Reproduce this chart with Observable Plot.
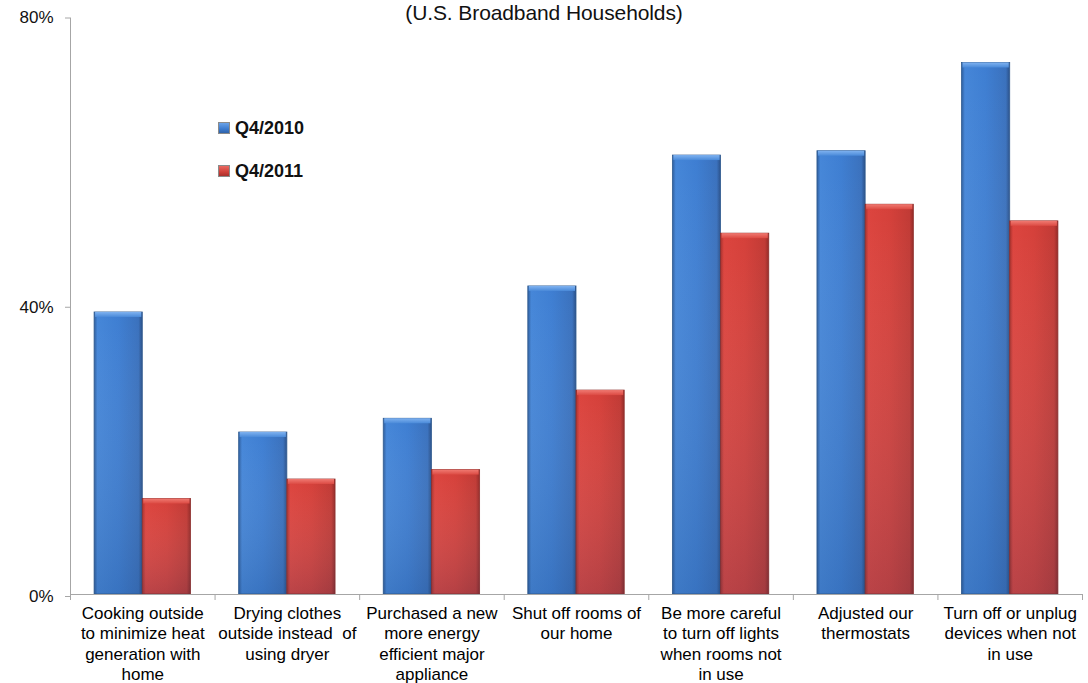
<!DOCTYPE html>
<html>
<head>
<meta charset="utf-8">
<script src="https://cdn.jsdelivr.net/npm/d3@7"></script>
<script src="https://cdn.jsdelivr.net/npm/@observablehq/plot@0.6"></script>
<style>
  body { margin: 0; background: #fff; font-family: "Liberation Sans", Arial, sans-serif; }
  #wrap { position: relative; width: 1088px; height: 683px; overflow: hidden; }
  #title { position: absolute; left: 0; top: 2px; width: 1088px; text-align: center;
           font-size: 21px; line-height: 22px; color: #111; letter-spacing: -0.1px; }
  .leg { position: absolute; left: 218px; display: flex; align-items: center; gap: 5px;
         font-weight: bold; font-size: 18px; color: #111; line-height: 20px; }
  .sw { width: 12px; height: 12px; box-sizing: border-box; }
  #chart { position: absolute; left: 0; top: 0; }
</style>
</head>
<body>
<div id="wrap">
  <div id="chart"></div>
  <div id="title">(U.S. Broadband Households)</div>
  <div id="legend"></div>
</div>
<script>
// ---- data ----
const categories = [
  "Cooking outside to minimize heat generation with home",
  "Drying clothes outside instead of using dryer",
  "Purchased a new more energy efficient major appliance",
  "Shut off rooms of our home",
  "Be more careful to turn off lights when rooms not in use",
  "Adjusted our thermostats",
  "Turn off or unplug devices when not in use"
];
const tickLabels = [
  "Cooking outside\nto minimize heat\ngeneration with\nhome",
  "Drying clothes\noutside instead  of\nusing dryer",
  "Purchased a new\nmore energy\nefficient major\nappliance",
  "Shut off rooms of\nour home",
  "Be more careful\nto turn off lights\nwhen rooms not\nin use",
  "Adjusted our\nthermostats",
  "Turn off or unplug\ndevices when not\nin use"
];
const seriesNames = ["Q4/2010", "Q4/2011"];
const values2010 = [39.0, 22.4, 24.3, 42.6, 60.7, 61.3, 73.5];
const values2011 = [13.2, 15.9, 17.2, 28.2, 49.9, 53.9, 51.6];
const yTicks = [0, 40, 80];

// ---- layout ----
const W = 1088, H = 683;
const ml = 70, mr = 6, mt = 15.5, mb = 89;
const step = (W - ml - mr) / categories.length;
const outer = step / 6, bw = step / 3;
const axisGray = "#a6a6a6";

const rows2010 = categories.map((c, i) => ({cat: c, v: values2010[i]}));
const rows2011 = categories.map((c, i) => ({cat: c, v: values2011[i]}));

const defsMark = () => {
  const ns = "http://www.w3.org/2000/svg";
  const defs = document.createElementNS(ns, "defs");
  defs.innerHTML = `
    <linearGradient id="gBlue" x1="0" x2="1" y1="0" y2="0">
      <stop offset="0" stop-color="#2d5d9c"/>
      <stop offset="0.07" stop-color="#4586d8"/>
      <stop offset="0.5" stop-color="#3e7ed2"/>
      <stop offset="0.92" stop-color="#3a71bd"/>
      <stop offset="1" stop-color="#2a5088"/>
    </linearGradient>
    <linearGradient id="gRed" x1="0" x2="1" y1="0" y2="0">
      <stop offset="0" stop-color="#a8302c"/>
      <stop offset="0.07" stop-color="#dc443e"/>
      <stop offset="0.5" stop-color="#d5403a"/>
      <stop offset="0.92" stop-color="#c13a35"/>
      <stop offset="1" stop-color="#942a27"/>
    </linearGradient>
    <linearGradient id="gShadeV" x1="0" x2="0" y1="0" y2="1">
      <stop offset="0" stop-color="#ffffff" stop-opacity="0"/>
      <stop offset="1" stop-color="#1d3f70" stop-opacity="0.18"/>
    </linearGradient>
    <linearGradient id="gBlueTop" x1="0" x2="0" y1="0" y2="1">
      <stop offset="0" stop-color="#7fb2f0"/>
      <stop offset="1" stop-color="#4a8ad9"/>
    </linearGradient>
    <linearGradient id="gRedTop" x1="0" x2="0" y1="0" y2="1">
      <stop offset="0" stop-color="#f07a72"/>
      <stop offset="1" stop-color="#dc4a43"/>
    </linearGradient>`;
  return defs;
};

const chart = Plot.plot({
  width: W,
  height: H,
  marginLeft: ml,
  marginRight: mr,
  marginTop: mt,
  marginBottom: mb,
  style: {fontFamily: "'Liberation Sans', Arial, sans-serif", fontSize: "17px", color: "#111", background: "#fff", overflow: "visible"},
  x: {domain: categories, padding: 0, round: false, label: null},
  y: {domain: [0, 80], label: null},
  marks: [
    defsMark,
    // bars
    Plot.barY(rows2010, {x: "cat", y: "v", fill: "url(#gBlue)", stroke: "#2f5a8f", strokeWidth: 0.8,
      insetLeft: outer, insetRight: outer + bw}),
    Plot.barY(rows2010, {x: "cat", y: "v", fill: "url(#gShadeV)",
      insetLeft: outer, insetRight: outer + bw}),
    Plot.barY(rows2010, {x: "cat", y1: "v", y2: "v", insetBottom: -5, fill: "url(#gBlueTop)",
      insetLeft: outer + 1, insetRight: outer + bw + 1}),
    Plot.barY(rows2011, {x: "cat", y: "v", fill: "url(#gRed)", stroke: "#8c2b28", strokeWidth: 0.8,
      insetLeft: outer + bw, insetRight: outer}),
    Plot.barY(rows2011, {x: "cat", y: "v", fill: "url(#gShadeV)",
      insetLeft: outer + bw, insetRight: outer}),
    Plot.barY(rows2011, {x: "cat", y1: "v", y2: "v", insetBottom: -5, fill: "url(#gRedTop)",
      insetLeft: outer + bw + 1, insetRight: outer + 1}),
    // axes lines
    Plot.ruleY([0], {stroke: axisGray}),
    Plot.ruleX([categories[0]], {x: d => d, y1: 0, y2: 80, insetBottom: -2, dx: -step / 2, stroke: axisGray}),
    Plot.ruleX(categories, {x: d => d, y1: 0, y2: 0, insetBottom: -6, dx: -step / 2, stroke: axisGray}),
    Plot.ruleX([categories[categories.length - 1]], {x: d => d, y1: 0, y2: 0, insetBottom: -6, dx: step / 2, stroke: axisGray}),
    Plot.axisY(yTicks, {tickSize: 5, tickPadding: 12, tickFormat: d => d + "%", stroke: axisGray, fill: "#111", dy: 2, fontSize: 17}),
    Plot.axisX({tickSize: 0, tickPadding: 10, tickFormat: d => tickLabels[categories.indexOf(d)], lineHeight: 1.2, fill: "#000", fontSize: 17})
  ]
});
document.getElementById("chart").appendChild(chart);

// legend
const legendColors = {
  "Q4/2010": "linear-gradient(to bottom, #6aa2e8, #3c7bcf 60%, #2f62a8)",
  "Q4/2011": "linear-gradient(to bottom, #ea6a62, #cf3f39 60%, #a8302c)"
};
const legendTops = [118, 161];
const legend = document.getElementById("legend");
seriesNames.forEach((s, i) => {
  const item = document.createElement("div");
  item.className = "leg";
  item.style.top = legendTops[i] + "px";
  const sw = document.createElement("div");
  sw.className = "sw";
  sw.style.background = legendColors[s];
  sw.style.border = "1px solid #8a8a8a";
  const t = document.createElement("span");
  t.textContent = s;
  item.appendChild(sw);
  item.appendChild(t);
  legend.appendChild(item);
});
</script>
</body>
</html>
